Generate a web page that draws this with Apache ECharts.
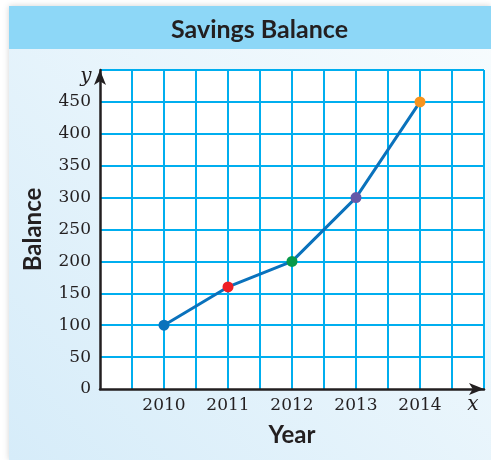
<!DOCTYPE html>
<html><head><meta charset="utf-8">
<script src="https://cdn.jsdelivr.net/npm/echarts@6/dist/echarts.min.js"></script>
<style>html,body{margin:0;padding:0;background:#fff}#c{width:491px;height:460px}</style>
</head><body><div id="c"></div>
<script>
const chartTitle = 'Savings Balance';
const xTitle = 'Year';
const yTitle = 'Balance';
const years = [2010, 2011, 2012, 2013, 2014];
const balances = [100, 160, 200, 300, 450];
const pointColors = ['#0a72bc', '#ee1f26', '#08994a', '#6558a7', '#f7941d'];
const yTickLabels = [0, 50, 100, 150, 200, 250, 300, 350, 400, 450];

const gridBlue = '#00aeef';
const labelFont = 'DejaVu Serif';
const boldFont = 'Lato';

const chart = echarts.init(document.getElementById('c'), null, {renderer: 'canvas'});
chart.setOption({
  animation: false,
  backgroundColor: '#ffffff',
  graphic: [
    { type: 'rect', z: -100, shape: {x: 9, y: 6, width: 482, height: 454},
      style: { fill: {type: 'linear', x: 0, y: 1, x2: 1, y2: 0,
        colorStops: [{offset: 0, color: '#d6ecf9'}, {offset: 1, color: '#f8fcfe'}]},
        shadowBlur: 6, shadowColor: 'rgba(0,0,0,0.18)' } },
    { type: 'rect', z: -99, shape: {x: 9, y: 6, width: 482, height: 43},
      style: { fill: '#8dd7f7' } },
    { type: 'text', z: 10, x: 86, y: 77,
      style: { text: 'y', font: 'italic 20px "DejaVu Serif"', fill: '#231f20', align: 'center', verticalAlign: 'middle' } },
    { type: 'text', z: 10, x: 473, y: 405,
      style: { text: 'x', font: 'italic 20px "DejaVu Serif"', fill: '#231f20', align: 'center', verticalAlign: 'middle' } }
  ],
  title: {
    text: chartTitle, left: 166, top: 12,
    textStyle: { fontFamily: boldFont, fontWeight: 'bold', fontSize: 25, color: '#231f20' }
  },
  grid: { left: 100, top: 70, right: 7, bottom: 71, show: true, backgroundColor: '#ffffff', borderWidth: 0 },
  xAxis: {
    type: 'value', min: 2009, max: 2015, interval: 0.5,
    name: xTitle, nameLocation: 'middle', nameGap: 34,
    nameTextStyle: { fontFamily: boldFont, fontWeight: 'bold', fontSize: 24, color: '#231f20' },
    axisLine: { show: true, lineStyle: { color: '#231f20', width: 2.5 }, symbol: ['none', 'arrow'], symbolSize: [9, 15] },
    axisTick: { show: false },
    axisLabel: { margin: 8, fontFamily: labelFont, fontSize: 17, color: '#231f20',
      formatter: v => years.includes(v) ? String(v) : '' },
    splitLine: { show: true, showMinLine: false, lineStyle: { color: gridBlue, width: 2 } }
  },
  yAxis: {
    type: 'value', min: 0, max: 500, interval: 50,
    name: yTitle, nameLocation: 'middle', nameGap: 55, nameRotate: 90,
    nameTextStyle: { fontFamily: boldFont, fontWeight: 'bold', fontSize: 24, color: '#231f20' },
    axisLine: { show: true, lineStyle: { color: '#231f20', width: 2.5 }, symbol: ['none', 'arrow'], symbolSize: [9, 15] },
    axisTick: { show: false },
    axisLabel: { margin: 9, fontFamily: labelFont, fontSize: 17, color: '#231f20',
      formatter: v => yTickLabels.includes(v) ? String(v) : '' },
    splitLine: { show: true, showMinLine: false, lineStyle: { color: gridBlue, width: 2 } }
  },
  series: [{
    type: 'line',
    data: years.map((y, i) => ({ value: [y, balances[i]], itemStyle: { color: pointColors[i] } })),
    symbol: 'circle', symbolSize: 11,
    lineStyle: { color: '#0a72bc', width: 3 },
    itemStyle: { borderWidth: 0 },
    z: 5
  }]
});
</script>
</body></html>
